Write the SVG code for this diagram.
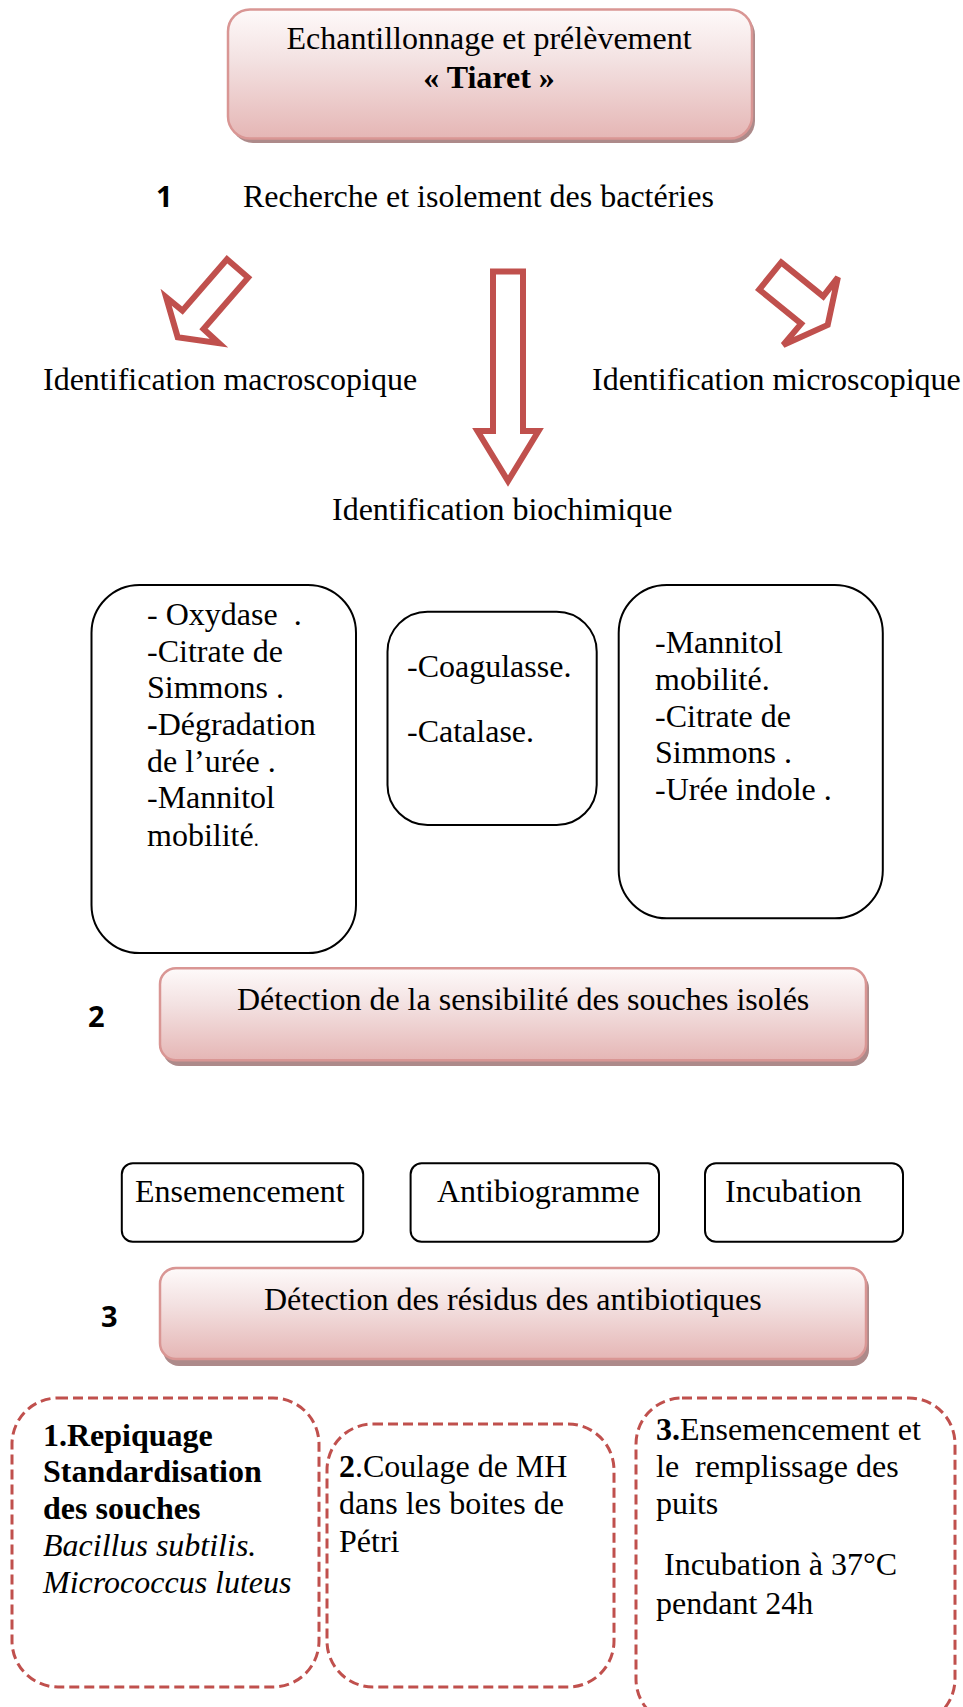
<svg xmlns="http://www.w3.org/2000/svg" width="963" height="1707" viewBox="0 0 963 1707">
<style>
.t{font-family:"Liberation Serif","Times New Roman",serif;font-size:32px;fill:#000}
.b{font-weight:bold}
.i{font-style:italic}
.num{font-family:"Open Sans","Liberation Sans",sans-serif;font-weight:700;font-size:29px;fill:#000}
.arrow{fill:#fff;stroke:#c0504d;stroke-width:6;stroke-linejoin:miter}
.pink{fill:url(#pg);stroke:#d99694;stroke-width:2.5}
.shadow{fill:#ad8a8a}
.box{fill:#fff;stroke:#000;stroke-width:2}
.dash{fill:none;stroke:#c0504d;stroke-width:3;stroke-dasharray:10 5}
</style>
<defs>
<linearGradient id="pg" x1="0" y1="0" x2="0" y2="1">
<stop offset="0" stop-color="#fefafa"/>
<stop offset="0.4" stop-color="#f3e1e1"/>
<stop offset="1" stop-color="#e5b6b5"/>
</linearGradient>
</defs>
<rect width="963" height="1707" fill="#fff"/>

<g id="n-top">
<rect class="shadow" x="231" y="13" width="524" height="130" rx="22"/>
<rect class="pink" x="228" y="9.5" width="524" height="129" rx="22"/>
<text class="t" x="489" y="49" text-anchor="middle">Echantillonnage et prélèvement</text>
<text class="t b" x="489" y="88" text-anchor="middle">« Tiaret »</text>
</g>

<g id="n-step1">
<text class="num" x="156" y="207">1</text>
<text class="t" x="243" y="207">Recherche et isolement des bactéries</text>
</g>

<g id="connectors">
<polygon class="arrow" points="227,259.2 248.1,277.6 203.5,329 219,343.2 177.7,337.2 166.1,297.2 182.4,310.6"/>
<polygon class="arrow" points="493,271.5 523,271.5 523,431 538.5,431 508,481 477.5,431 493,431"/>
<polygon class="arrow" points="781.2,262.4 823.2,296.4 837.9,277.3 827.7,325 783.2,344.9 801.2,323.6 759.2,289.6"/>
</g>

<g id="n-macro"><text class="t" x="43" y="390">Identification macroscopique</text></g>
<g id="n-micro"><text class="t" x="592" y="390">Identification microscopique</text></g>
<g id="n-bio"><text class="t" x="332" y="520">Identification biochimique</text></g>

<g id="n-bio-left">
<rect class="box" x="91.5" y="585" width="264.5" height="368" rx="48"/>
<text class="t" x="147" y="625" xml:space="preserve">- Oxydase  .</text>
<text class="t" x="147" y="661.7">-Citrate de</text>
<text class="t" x="147" y="698.3">Simmons .</text>
<text class="t" x="147" y="735"><tspan class="b">-</tspan>Dégradation</text>
<text class="t" x="147" y="771.7">de l’urée .</text>
<text class="t" x="147" y="808.3">-Mannitol</text>
<text class="t" x="147" y="846">mobilité<tspan font-size="20">.</tspan></text>
</g>

<g id="n-bio-mid">
<rect class="box" x="387.5" y="611.7" width="209.2" height="213.3" rx="40"/>
<text class="t" x="407" y="676.7">-Coagulasse.</text>
<text class="t" x="407" y="741.7">-Catalase.</text>
</g>

<g id="n-bio-right">
<rect class="box" x="618.7" y="585" width="264.1" height="333.3" rx="48"/>
<text class="t" x="655" y="653.3">-Mannitol</text>
<text class="t" x="655" y="690">mobilité.</text>
<text class="t" x="655" y="726.7">-Citrate de</text>
<text class="t" x="655" y="763.3">Simmons .</text>
<text class="t" x="655" y="800">-Urée indole .</text>
</g>

<g id="n-step2">
<text class="num" x="88" y="1027">2</text>
<rect class="shadow" x="163" y="972" width="706" height="94" rx="16"/>
<rect class="pink" x="160" y="968.3" width="706" height="92" rx="16"/>
<text class="t" x="237" y="1010">Détection de la sensibilité des souches isolés</text>
</g>

<g id="n-ens">
<rect class="box" x="121.8" y="1163.3" width="241.4" height="78.4" rx="11"/>
<text class="t" x="135" y="1202">Ensemencement</text>
</g>
<g id="n-anti">
<rect class="box" x="410.6" y="1163.3" width="248.4" height="78.4" rx="11"/>
<text class="t" x="437" y="1202">Antibiogramme</text>
</g>
<g id="n-incub">
<rect class="box" x="705" y="1163.3" width="198" height="78.4" rx="11"/>
<text class="t" x="725" y="1202">Incubation</text>
</g>

<g id="n-step3">
<text class="num" x="101" y="1327">3</text>
<rect class="shadow" x="163" y="1272" width="706" height="94" rx="16"/>
<rect class="pink" x="160" y="1268" width="706" height="91" rx="16"/>
<text class="t" x="264" y="1310">Détection des résidus des antibiotiques</text>
</g>

<g id="n-d1">
<rect class="dash" x="12" y="1398" width="307" height="289" rx="46"/>
<text class="t b" x="43" y="1446">1.Repiquage</text>
<text class="t b" x="43" y="1482">Standardisation</text>
<text class="t b" x="43" y="1518.5">des souches</text>
<text class="t i" x="43" y="1556">Bacillus subtilis.</text>
<text class="t i" x="43" y="1593">Micrococcus luteus</text>
</g>

<g id="n-d2">
<rect class="dash" x="327" y="1424" width="287" height="263" rx="46"/>
<text class="t" x="339" y="1477"><tspan class="b">2</tspan>.Coulage de MH</text>
<text class="t" x="339" y="1513.5">dans les boites de</text>
<text class="t" x="339" y="1551.5">Pétri</text>
</g>

<g id="n-d3">
<rect class="dash" x="636" y="1398" width="319" height="327" rx="46"/>
<text class="t" x="656" y="1439.5"><tspan class="b">3.</tspan>Ensemencement et</text>
<text class="t" x="656" y="1477" xml:space="preserve">le  remplissage des</text>
<text class="t" x="656" y="1513.5">puits</text>
<text class="t" x="664" y="1575">Incubation à 37°C</text>
<text class="t" x="656" y="1613.5">pendant 24h</text>
</g>
</svg>
